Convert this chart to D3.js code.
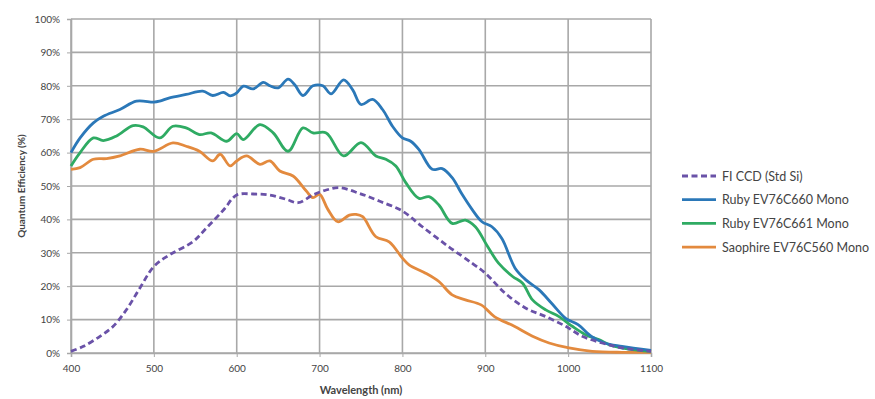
<!DOCTYPE html>
<html>
<head>
<meta charset="utf-8">
<script src="https://cdn.jsdelivr.net/npm/d3@7"></script>
<style>
  body { margin: 0; background: #fff; }
  text { font-family: Lato, "Open Sans", sans-serif; fill: #444; }
</style>
</head>
<body>
<div id="chart"></div>
<script>
// wavelength (nm) / QE (%) pairs
const fiCcd = [[400,0.5],[415,2],[435,5],[451,8],[467,13],[483,19.4],[500,25.9],[519,29.4],[547,33.3],[563,37.3],[584,42.8],[600,47.3],[620,47.6],[640,47.3],[660,46],[674,45],[692,47.3],[708,48.8],[724,49.5],[748,47.8],[772,45.5],[800,42.5],[824,37.8],[856,31.8],[884,26.9],[900,23.9],[924,17.9],[949,13.4],[973,10.9],[997,8],[1017,5],[1041,3],[1065,1.5],[1100,0.5]];

const ruby660 = [[400,60],[411,64.4],[427,68.9],[439,70.9],[459,72.9],[479,75.4],[500,75.1],[507,75.4],[519,76.4],[539,77.4],[559,78.4],[571,77.1],[584,78],[592,77],[600,77.9],[608,79.9],[620,79.1],[632,81],[640,80],[650,79.4],[662,82],[670,80.3],[680,77.1],[692,80],[704,80],[714,77.6],[729,81.8],[740,78.8],[750,74.4],[764,75.9],[776,72.9],[788,67.9],[800,64.4],[810,63.4],[820,60.9],[836,55],[848,55.2],[860,52.5],[872,47.5],[884,43],[896,39.3],[908,37.8],[920,34.3],[936,25.4],[949,21.9],[965,18.9],[980,14.9],[997,10.4],[1012,8.5],[1028,5],[1044,3],[1065,2],[1100,0.8]];

const ruby661 = [[400,56],[411,60],[427,64.4],[439,63.6],[455,65],[475,68.1],[487,67.7],[507,64.4],[523,67.9],[539,67.4],[555,65.4],[569,65.9],[588,63.4],[600,65.7],[608,63.9],[628,68.4],[644,65.9],[662,60.4],[680,67.4],[692,65.9],[708,65.9],[729,59],[750,63],[768,59],[780,58],[792,56],[804,51],[820,46.3],[832,46.8],[844,44.3],[860,38.8],[876,39.8],[888,37.8],[903,31.8],[916,26.9],[933,22.9],[945,20.9],[957,15.9],[973,12.9],[989,10.9],[1005,8],[1021,5.5],[1037,4],[1053,2.2],[1073,1.2],[1100,0.5]];

const sapphire560 = [[400,55],[411,55.5],[427,58],[443,58.2],[459,59],[483,61],[500,60.4],[523,62.9],[539,61.9],[555,60.4],[571,57.5],[580,59.5],[592,56],[600,57.5],[612,59],[628,56.5],[640,57.5],[652,54.5],[668,53],[684,48.5],[692,46.5],[700,47.5],[710,43],[722,39.3],[736,41.3],[744,41.5],[752,40.8],[768,34.8],[784,33.3],[800,28.4],[808,26.4],[828,23.9],[844,21.4],[860,17.4],[876,15.9],[895,14.4],[911,10.9],[935,8],[957,5],[977,3],[1001,1.5],[1029,0.5],[1065,0.2],[1100,0.2]];

const seriesNames = ['FI CCD (Std Si)', 'Ruby EV76C660 Mono', 'Ruby EV76C661 Mono', 'Saophire EV76C560 Mono'];
const seriesColors = ['#6a52a8', '#2b78b8', '#2fab63', '#e38a3e'];
const xTicks = [400, 500, 600, 700, 800, 900, 1000, 1100];
const yTicks = [0, 10, 20, 30, 40, 50, 60, 70, 80, 90, 100];

const width = 875, height = 399;
const margin = {top: 19, right: 224, bottom: 46, left: 71};
const innerW = width - margin.left - margin.right;
const innerH = height - margin.top - margin.bottom;

const svg = d3.select('#chart').append('svg')
  .attr('width', width)
  .attr('height', height);

const g = svg.append('g')
  .attr('transform', 'translate(' + margin.left + ',' + margin.top + ')');

const x = d3.scaleLinear().domain([400, 1100]).range([0, innerW]);
const y = d3.scaleLinear().domain([0, 100]).range([innerH, 0]);

// grid
g.append('g').selectAll('line').data(yTicks).enter().append('line')
  .attr('x1', 0).attr('x2', innerW)
  .attr('y1', d => y(d)).attr('y2', d => y(d))
  .attr('stroke', '#a8a8a8').attr('stroke-width', 1.6);
g.append('g').selectAll('line').data(xTicks).enter().append('line')
  .attr('x1', d => x(d)).attr('x2', d => x(d))
  .attr('y1', 0).attr('y2', innerH)
  .attr('stroke', '#a8a8a8').attr('stroke-width', 1.6);

// axes
const xAxis = g.append('g')
  .attr('transform', 'translate(0,' + innerH + ')')
  .call(d3.axisBottom(x).tickValues(xTicks).tickSize(4).tickPadding(8).tickFormat(d3.format('d')));
const yAxis = g.append('g')
  .call(d3.axisLeft(y).tickValues(yTicks).tickSize(4).tickPadding(7).tickFormat(d => d + '%'));
[xAxis, yAxis].forEach(a => {
  a.select('.domain').attr('stroke', '#a8a8a8').attr('stroke-width', 1.6);
  a.selectAll('.tick line').attr('stroke', '#a8a8a8');
  a.selectAll('.tick text').style('font-size', '10px').attr('fill', '#555');
});

// axis titles
svg.append('text')
  .attr('x', margin.left + innerW / 2).attr('y', 394)
  .attr('text-anchor', 'middle')
  .style('font-size', '11px').style('font-weight', 'bold')
  .text('Wavelength (nm)');
svg.append('text')
  .attr('transform', 'translate(25,' + (margin.top + innerH / 2) + ') rotate(-90)')
  .attr('text-anchor', 'middle')
  .style('font-size', '10px').style('font-weight', 'bold')
  .text('Quantum Efficiency (%)');

// curves
const line = d3.line()
  .x(d => x(d[0]))
  .y(d => y(d[1]))
  .curve(d3.curveCatmullRom.alpha(0.5));

const allSeries = [fiCcd, ruby660, ruby661, sapphire560];
// draw order: sapphire, green, blue, then dashed on top
[3, 2, 1, 0].forEach(i => {
  g.append('path')
    .datum(allSeries[i])
    .attr('fill', 'none')
    .attr('stroke', seriesColors[i])
    .attr('stroke-width', 2.8)
    .attr('stroke-dasharray', i === 0 ? '6,3.5' : null)
    .attr('d', line);
});

// legend
const legend = svg.append('g').attr('transform', 'translate(682,176)');
seriesNames.forEach((name, i) => {
  const row = legend.append('g').attr('transform', 'translate(0,' + (i * 23.7) + ')');
  row.append('line')
    .attr('x1', 0).attr('x2', 34).attr('y1', 0).attr('y2', 0)
    .attr('stroke', seriesColors[i]).attr('stroke-width', 2.8)
    .attr('stroke-dasharray', i === 0 ? '6,3.5' : null);
  row.append('text')
    .attr('x', 40).attr('y', 4.5)
    .style('font-size', '12.5px').attr('fill', '#444')
    .text(name);
});
</script>
</body>
</html>
